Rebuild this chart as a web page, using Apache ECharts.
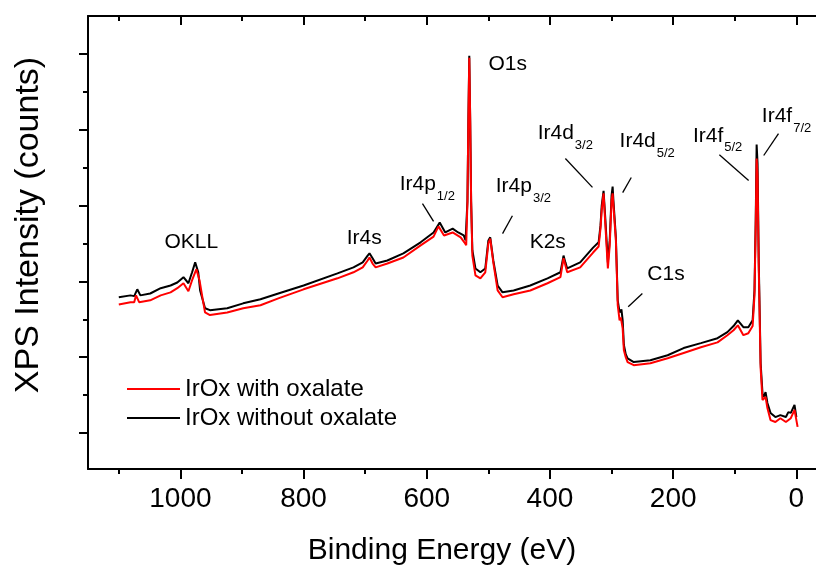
<!DOCTYPE html>
<html>
<head>
<meta charset="utf-8">
<script src="https://cdn.jsdelivr.net/npm/echarts@6/dist/echarts.min.js"></script>
<style>
  html, body { margin: 0; padding: 0; background: #fff; }
  #chart { width: 816px; height: 566px; }
</style>
</head>
<body>
<div id="chart"></div>
<script>
// XPS survey spectra of IrOx, binding energy in eV, intensity in 10^4 counts
const energyWithout = [1100,1081,1075,1070,1065,1049,1032,1016,1005,995,987,981,976,971,968,960,952,924,898,870,841,800,745,719,704,696,693,688,683,664,638,610,589,579,570,558,549,540,537,534,532.5,531,529.5,528,526,521,513,505,500,497,492,485,477,459,432,404,383,380,378,375,372,351,330,321,318,316,313,310,306,303,300,298.3,297,293,290,287,284,282,280,277,274,264,237,209,183,155,128,112,102,95,86,78,71,68,66,64.5,63,61,58,55,53,50,47,42,34,26,17,13,9,3,0];
const countsWithout = [3.58,3.63,3.61,3.79,3.63,3.68,3.82,3.89,3.97,4.11,3.95,4.24,4.50,4.24,3.76,3.29,3.24,3.29,3.42,3.53,3.68,3.89,4.21,4.37,4.50,4.68,4.74,4.61,4.47,4.55,4.74,5.03,5.29,5.55,5.29,5.39,5.29,5.21,5.08,6.11,8.24,9.95,8.24,6.11,4.82,4.34,4.24,4.34,5.08,5.16,4.55,3.89,3.71,3.76,3.89,4.08,4.24,4.50,4.68,4.50,4.34,4.50,4.89,5.03,5.47,6.00,6.39,5.61,4.50,5.08,6.26,6.50,6.13,5.16,3.50,3.18,3.26,2.97,2.32,2.08,1.97,1.87,1.92,2.05,2.24,2.37,2.50,2.66,2.82,2.97,2.79,2.79,2.97,3.76,5.61,7.61,7.11,4.47,1.84,1.05,0.95,1.08,0.79,0.53,0.42,0.47,0.42,0.55,0.53,0.74,0.42];

const energyWith = [1100,1081,1075,1072,1067,1049,1032,1016,1005,995,987,981,974,969,964,960,952,924,898,870,841,800,745,719,704,696,693,688,683,664,638,610,589,581,572,558,545,539,536,534,532.5,531,529.5,528,526,521,513,505,500,497,492,485,477,459,432,404,383,378,372,351,330,321,318,316,313,310,306,303,300,298.3,297,293,290,287,285,282,280,277,274,264,237,209,183,155,128,112,102,95,86,78,71,68,66,64.5,63,61,58,55,53,50,47,42,34,26,17,9,3,-2];
const countsWith = [3.39,3.45,3.45,3.63,3.45,3.50,3.63,3.71,3.82,3.95,3.74,4.03,4.32,4.03,3.55,3.18,3.11,3.18,3.29,3.37,3.55,3.79,4.08,4.24,4.37,4.55,4.63,4.47,4.37,4.47,4.63,4.95,5.18,5.45,5.21,5.29,5.16,5.03,4.95,6.11,8.24,9.90,8.24,6.11,4.68,4.16,4.08,4.24,5.00,5.13,4.50,3.76,3.58,3.66,3.76,3.95,4.11,4.61,4.24,4.37,4.76,4.92,5.39,5.87,6.32,5.47,4.34,4.95,6.13,6.32,6.00,5.08,3.37,2.97,3.05,2.76,2.18,2.00,1.87,1.79,1.84,1.97,2.11,2.26,2.39,2.58,2.71,2.84,2.58,2.63,2.82,3.63,5.47,7.24,6.79,4.29,1.71,0.87,0.82,0.95,0.66,0.34,0.29,0.39,0.29,0.39,0.61,0.16];

const seriesNames = ['IrOx with oxalate', 'IrOx without oxalate'];

// axis ticks
const xMajorTicks = [0, 200, 400, 600, 800, 1000];
const xMinorTicks = [100, 300, 500, 700, 900, 1100];
const xTickLabels = ['0', '200', '400', '600', '800', '1000'];
const yMajorTicks = [0, 2, 4, 6, 8, 10];
const yMinorTicks = [1, 3, 5, 7, 9];

// peak names (main text + subscript)
const peakNames = ['OKLL', 'Ir4s', 'Ir4p', 'Ir4p', 'K2s', 'Ir4d', 'Ir4d', 'Ir4f', 'Ir4f', 'O1s', 'C1s'];
const peakSubs  = ['', '', '1/2', '3/2', '', '3/2', '5/2', '5/2', '7/2', '', ''];

const FONT = '"Liberation Sans", Arial, sans-serif';
const BLACK = '#000000';
const RED = '#ff0000';

// label anchors [eV, intensity] : left edge, vertical centre of the main text
const labelAnchors = [
  [1026, 5.02], [730, 5.13], [644, 6.55], [488, 6.50], [433, 5.02],
  [420, 7.90], [287, 7.69], [168, 7.84], [56, 8.35], [500, 9.74], [242, 4.20]
];
// leader lines [eV1, I1, eV2, I2]
const leaders = [
  [607, 6.05, 589, 5.58],
  [461, 5.73, 477, 5.26],
  [375, 7.24, 331, 6.48],
  [268, 6.74, 282, 6.34],
  [125, 7.34, 77.5, 6.66],
  [29, 7.90, 53, 7.32],
  [250, 3.68, 273, 3.33]
];

function pairs(xs, ys) { return xs.map((x, i) => [x, ys[i]]); }

const chart = echarts.init(document.getElementById('chart'), null, { renderer: 'canvas' });

const axisLine = { show: true, onZero: false, lineStyle: { color: BLACK, width: 2 } };
const noLine = { show: false, onZero: false };
const tickStyle = { color: BLACK, width: 2 };
const xBase = { type: 'value', min: -40, max: 1150, inverse: true, splitLine: { show: false } };
const yBase = { type: 'value', min: -0.95, max: 11.0, splitLine: { show: false } };

chart.setOption({
  animation: false,
  backgroundColor: '#ffffff',
  grid: { left: 88, top: 16, width: 733, height: 453, containLabel: false, outerBoundsMode: 'none' },
  xAxis: [
    Object.assign({}, xBase, {
      position: 'bottom', axisLine: axisLine,
      axisTick: { show: true, customValues: xMajorTicks, length: 10, lineStyle: tickStyle },
      axisLabel: {
        show: true, customValues: xMajorTicks, margin: 16,
        formatter: v => xTickLabels[xMajorTicks.indexOf(v)],
        fontSize: 28, fontFamily: FONT, color: BLACK
      }
    }),
    Object.assign({}, xBase, {
      position: 'bottom', axisLine: noLine,
      axisTick: { show: true, customValues: xMinorTicks, length: 5, lineStyle: tickStyle },
      axisLabel: { show: false }
    }),
    Object.assign({}, xBase, {
      position: 'top', axisLine: axisLine,
      axisTick: { show: true, inside: true, customValues: xMajorTicks, length: 9, lineStyle: tickStyle },
      axisLabel: { show: false }
    }),
    Object.assign({}, xBase, {
      position: 'top', axisLine: noLine,
      axisTick: { show: true, inside: true, customValues: xMinorTicks, length: 5, lineStyle: tickStyle },
      axisLabel: { show: false }
    })
  ],
  yAxis: [
    Object.assign({}, yBase, {
      position: 'left', axisLine: axisLine,
      axisTick: { show: true, customValues: yMajorTicks, length: 9, lineStyle: tickStyle },
      axisLabel: { show: false }
    }),
    Object.assign({}, yBase, {
      position: 'left', axisLine: noLine,
      axisTick: { show: true, customValues: yMinorTicks, length: 5, lineStyle: tickStyle },
      axisLabel: { show: false }
    })
  ],
  legend: {
    orient: 'vertical', left: 122, top: 372,
    itemWidth: 53, itemHeight: 2, icon: 'rect', itemGap: 5,
    data: seriesNames,
    textStyle: { fontSize: 24, lineHeight: 24, fontFamily: FONT, color: BLACK, padding: [0, 0, 0, 0] }
  },
  series: [
    {
      name: seriesNames[1], type: 'line', data: pairs(energyWithout, countsWithout),
      showSymbol: false, lineStyle: { color: BLACK, width: 2 }, itemStyle: { color: BLACK },
      z: 2
    },
    {
      name: seriesNames[0], type: 'line', data: pairs(energyWith, countsWith),
      showSymbol: false, lineStyle: { color: RED, width: 2 }, itemStyle: { color: RED },
      z: 3
    }
  ]
});

// axis titles and peak annotations
const measureCtx = document.createElement('canvas').getContext('2d');
const MAIN_SIZE = 21, SUB_SIZE = 13;
const graphics = [];

graphics.push({
  type: 'text', x: 442, y: 551,
  style: { text: 'Binding Energy (eV)', font: '30px ' + FONT, fill: BLACK, align: 'center', verticalAlign: 'middle' }
});
graphics.push({
  type: 'text', x: 29, y: 225, rotation: Math.PI / 2,
  style: { text: 'XPS Intensity (counts)', font: '34px ' + FONT, fill: BLACK, align: 'center', verticalAlign: 'middle' }
});

peakNames.forEach((name, i) => {
  const p = chart.convertToPixel({ gridIndex: 0 }, labelAnchors[i]);
  graphics.push({
    type: 'text', x: p[0], y: p[1],
    style: { text: name, font: MAIN_SIZE + 'px ' + FONT, fill: BLACK, align: 'left', verticalAlign: 'middle' }
  });
  if (peakSubs[i]) {
    measureCtx.font = MAIN_SIZE + 'px ' + FONT;
    const w = measureCtx.measureText(name).width;
    graphics.push({
      type: 'text', x: p[0] + w + 1, y: p[1] + 12,
      style: { text: peakSubs[i], font: SUB_SIZE + 'px ' + FONT, fill: BLACK, align: 'left', verticalAlign: 'middle' }
    });
  }
});

leaders.forEach(l => {
  const a = chart.convertToPixel({ gridIndex: 0 }, [l[0], l[1]]);
  const b = chart.convertToPixel({ gridIndex: 0 }, [l[2], l[3]]);
  graphics.push({
    type: 'line', shape: { x1: a[0], y1: a[1], x2: b[0], y2: b[1] },
    style: { stroke: BLACK, lineWidth: 1.3 }
  });
});

chart.setOption({ graphic: graphics });
</script>
</body>
</html>
